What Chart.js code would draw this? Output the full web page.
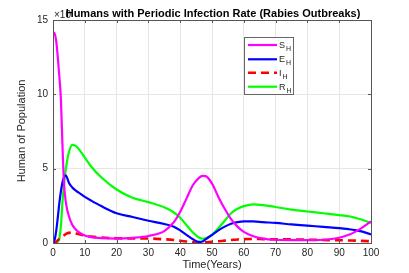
<!DOCTYPE html>
<html><head><meta charset="utf-8">
<script src="https://cdn.jsdelivr.net/npm/chart.js@4/dist/chart.umd.min.js"></script>
<style>html,body{margin:0;padding:0;background:#fff;}#wrap{width:409px;height:273px;}</style>
</head><body><div id="wrap"><canvas id="c" width="409" height="273"></canvas></div>
<script>
const TITLE = "Humans with Periodic Infection Rate (Rabies Outbreaks)";
const XLABEL = "Time(Years)";
const YLABEL = "Human of Population";
const EXPONENT = "\u00d710";
const xTicks = [0,10,20,30,40,50,60,70,80,90,100];
const yTicks = [0,5,10,15];
const seriesNames = [["S","H"],["E","H"],["I","H"],["R","H"]];
const time = [0,0.5,1,1.5,2,2.5,3,3.5,4,4.5,5,6,7,8,10,12,15,20,25,30,35,38,40,42,44,46,47,48,50,52,54,56,58,60,63,66,70,75,80,85,90,93,95,97,100];
const SH = [14.2,14.1,13.6,12.5,11.2,9.6,6.4,3.9,2.8,2.2,1.8,1.25,0.95,0.75,0.5,0.4,0.33,0.3,0.35,0.47,0.8,1.4,2.1,3.0,3.9,4.4,4.52,4.5,4.0,3.1,2.3,1.6,1.1,0.75,0.45,0.3,0.22,0.2,0.2,0.22,0.35,0.55,0.75,1.0,1.45];
const EH = [0,0.2,0.8,1.7,2.7,3.5,4.1,4.45,4.55,4.35,4.05,3.75,3.55,3.4,3.1,2.85,2.5,2.0,1.75,1.5,1.28,1.1,0.85,0.55,0.25,0.07,0.1,0.25,0.55,0.85,1.1,1.3,1.4,1.45,1.45,1.4,1.35,1.25,1.17,1.08,1.0,0.93,0.87,0.78,0.58];
const IH = [0,0.02,0.08,0.18,0.28,0.36,0.43,0.52,0.6,0.65,0.68,0.7,0.66,0.6,0.5,0.43,0.37,0.32,0.3,0.3,0.25,0.2,0.15,0.1,0.05,0.03,0.03,0.05,0.08,0.12,0.16,0.2,0.24,0.26,0.27,0.26,0.25,0.24,0.22,0.2,0.19,0.17,0.16,0.14,0.12];
const RH = [0,0,0.02,0.1,0.3,1.2,2.8,4.0,4.9,5.6,6.1,6.6,6.55,6.35,5.75,5.15,4.46,3.6,3.05,2.75,2.4,2.05,1.7,1.2,0.7,0.35,0.3,0.32,0.55,1.0,1.5,2.0,2.3,2.48,2.6,2.55,2.42,2.25,2.12,2.0,1.88,1.8,1.7,1.58,1.35];

const FONT = "'Liberation Sans', Arial, Helvetica, sans-serif";
const pts = arr => arr.map((v,i)=>({x:time[i], y:v}));
const mk = (arr, color, dash) => ({
  label: seriesNames.map(s=>s.join(''))[0], data: pts(arr), borderColor: color, backgroundColor: color,
  borderWidth: dash ? 2.6 : 2.2, borderDash: dash || [], pointRadius: 0, fill: false,
  cubicInterpolationMode: 'monotone'
});
const datasets = [mk(SH,'#ff00ff'), mk(EH,'#0000ff'), mk(IH,'#ff0000',[8,5]), mk(RH,'#00ff00')];
datasets.forEach((d,i)=>{ d.label = seriesNames[i].join(''); d.sub = seriesNames[i]; });

const decor = {
  id: 'decor',
  afterDatasetsDraw(chart) {
    const ctx = chart.ctx, a = chart.chartArea, xs = chart.scales.x, ys = chart.scales.y;
    ctx.save();
    // box
    ctx.strokeStyle = '#555'; ctx.lineWidth = 1;
    ctx.strokeRect(Math.round(a.left)+0.5, Math.round(a.top)+0.5, Math.round(a.right-a.left), Math.round(a.bottom-a.top));
    // inward ticks
    ctx.beginPath();
    xTicks.forEach(t=>{ const x = Math.round(xs.getPixelForValue(t))+0.5;
      ctx.moveTo(x,a.bottom); ctx.lineTo(x,a.bottom-3); ctx.moveTo(x,a.top); ctx.lineTo(x,a.top+3); });
    yTicks.forEach(t=>{ const y = Math.round(ys.getPixelForValue(t))+0.5;
      ctx.moveTo(a.left,y); ctx.lineTo(a.left+3,y); ctx.moveTo(a.right,y); ctx.lineTo(a.right-3,y); });
    ctx.stroke();
    // legend
    const lx = 244.5, ly = 37.5, lw = 49, lh = 57;
    ctx.fillStyle = '#fff'; ctx.fillRect(lx,ly,lw,lh);
    ctx.strokeStyle = '#666'; ctx.strokeRect(lx,ly,lw,lh);
    const rows = [45,59.3,72.7,86.7];
    chart.data.datasets.forEach((d,i)=>{
      const y = rows[i];
      ctx.beginPath(); ctx.strokeStyle = d.borderColor; ctx.lineWidth = d.borderWidth;
      ctx.setLineDash(d.borderDash||[]);
      ctx.moveTo(248,y); ctx.lineTo(277,y); ctx.stroke(); ctx.setLineDash([]);
      ctx.fillStyle = '#262626'; ctx.textBaseline = 'alphabetic'; ctx.textAlign = 'left';
      ctx.font = '9px ' + FONT; ctx.fillText(d.sub[0], 279, y+3);
      const w = ctx.measureText(d.sub[0]).width;
      ctx.font = '7px ' + FONT; ctx.fillText(d.sub[1], 279+w+1, y+6);
    });
    // exponent
    ctx.fillStyle = '#262626'; ctx.font = '10px ' + FONT; ctx.textAlign = 'left';
    ctx.fillText(EXPONENT, 54, 18);
    // title
    ctx.fillStyle = '#000'; ctx.font = 'bold 11px ' + FONT; ctx.textAlign = 'center';
    ctx.fillText(TITLE, 213, 17);
    // axis labels
    ctx.fillStyle = '#262626'; ctx.font = '11px ' + FONT;
    ctx.fillText(XLABEL, 212, 268);
    ctx.translate(25, 131); ctx.rotate(-Math.PI/2); ctx.fillText(YLABEL, 0, 0);
    ctx.restore();
  }
};

new Chart(document.getElementById('c'), {
  type: 'line',
  data: { datasets },
  options: {
    responsive: false, animation: false, devicePixelRatio: 1,
    layout: { padding: { left: 0, top: 20, right: 38, bottom: 0 } },
    plugins: { legend: { display: false }, tooltip: { enabled: false }, title: { display: false } },
    scales: {
      x: { type: 'linear', min: 0, max: 100,
        afterBuildTicks: s => { s.ticks = xTicks.map(v=>({value:v})); },
        afterFit: s => { s.height = 30; },
        grid: { color: '#e6e6e6', drawTicks: false }, border: { display: false },
        ticks: { color: '#262626', font: { size: 10, family: FONT }, padding: 4, maxRotation: 0 } },
      y: { type: 'linear', min: 0, max: 15,
        afterBuildTicks: s => { s.ticks = yTicks.map(v=>({value:v})); },
        afterFit: s => { s.width = 53; },
        grid: { color: '#e6e6e6', drawTicks: false }, border: { display: false },
        ticks: { color: '#262626', font: { size: 10, family: FONT }, padding: 5 } }
    }
  },
  plugins: [decor]
});
</script></body></html>
